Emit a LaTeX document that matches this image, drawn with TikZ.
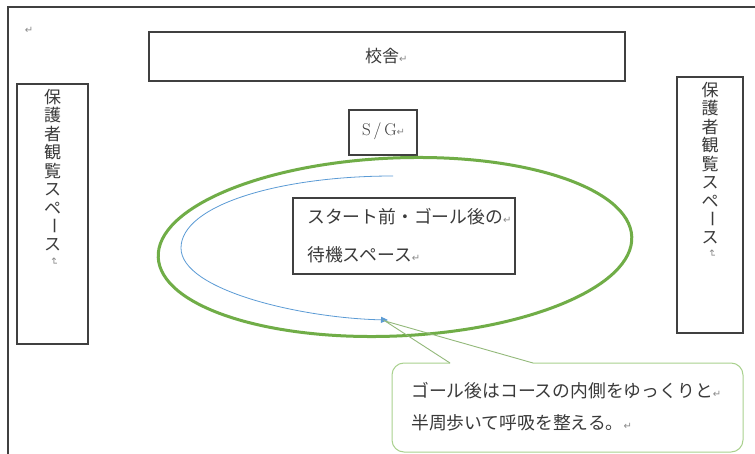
\documentclass[tikz,border=0pt]{standalone}
\usepackage{fontspec}
\newfontfamily\jp{Noto Sans CJK JP}
\newfontfamily\dv{DejaVu Sans}
\usetikzlibrary{arrows.meta}
\definecolor{framec}{HTML}{404040}
\definecolor{coursec}{HTML}{70AD47}
\definecolor{pathc}{HTML}{5B9BD5}
\definecolor{calloutc}{HTML}{A9D18E}
\definecolor{pointerc}{HTML}{93B97A}
\definecolor{inkc}{HTML}{3A3A3A}
\definecolor{retc}{HTML}{8A8A8A}
\newcommand{\retmark}{{\dv\fontsize{10}{10}\selectfont\textcolor{retc}{↵}}}
\begin{document}
\begin{tikzpicture}[x=1pt,y=-1pt,
  boxc/.style={draw=framec, line width=1.2pt, fill=white, inner sep=0pt},
  jtxt/.style={font=\jp\fontsize{17.8}{20}\selectfont, text=inkc, inner sep=0pt},
  vtxt/.style={font=\jp\fontsize{17}{18}\selectfont, text=inkc, inner sep=0pt}]
\useasboundingbox (0,0) rectangle (755,454);
\fill[white] (0,0) rectangle (755,454);
% outer frame
\draw[framec, line width=1.2pt] (8,454) -- (8,7) -- (755,7);
\node[inner sep=0pt] (r0) at (29,30) {\retmark};
% school building
\node[boxc, minimum width=476pt, minimum height=49pt] (school) at (387,56.5) {};
\node[jtxt, font=\jp\fontsize{17}{20}\selectfont, anchor=west] (schooltxt) at (365,56) {校舎\retmark};
% S/G
\node[boxc, minimum width=68pt, minimum height=45pt] (sg) at (383,132.5) {};
\node[inner sep=0pt, text=inkc, font=\fontsize{17}{17}\selectfont, anchor=west] (sgtxt) at (362,131) {S\,/\,G\retmark};
% course
\draw[coursec, line width=3pt, rotate around={2.5:(395,247)}] (395,247) ellipse [x radius=237, y radius=89];
% waiting area
\node[boxc, minimum width=222pt, minimum height=76pt] (wait) at (404,236) {};
\node[jtxt, anchor=west] (wait1) at (307,217) {スタート前・ゴール後の\retmark};
\node[jtxt, anchor=west] (wait2) at (307,255) {待機スペース\retmark};
% walking path
\coordinate (ps) at (393,176);
\coordinate (pm) at (181,248);
\coordinate (pe) at (388,320);
\draw[pathc, line width=0.8pt, -{Triangle[length=7pt,width=6pt]}] (ps) .. controls (280,176) and (181,205) .. (pm) .. controls (181,290) and (300,318) .. (pe);
% spectator areas
\node[boxc, minimum width=71pt, minimum height=260pt] (left) at (52.5,214) {};
\node[boxc, minimum width=66pt, minimum height=256pt] (right) at (710,205) {};
\foreach \c [count=\i] in {保,護,者,観,覧,ス,ペ,ー,ス}{
  \ifnum\i=8
    \node[vtxt, rotate=-90] (l\i) at (52.5,{97+(\i-1)*18.5}) {\c};
    \node[vtxt, rotate=-90] (r\i) at (710,{90+(\i-1)*18.5}) {\c};
  \else
    \node[vtxt] (l\i) at (52.5,{97+(\i-1)*18.5}) {\c};
    \node[vtxt] (r\i) at (710,{90+(\i-1)*18.5}) {\c};
  \fi
}
\node[inner sep=0pt, rotate=-90] (lret) at (54,262) {\retmark};
\node[inner sep=0pt, rotate=-90] (rret) at (712,254) {\retmark};
% callout
\coordinate (tip) at (385,321);
\coordinate (wa) at (450,363);
\coordinate (wb) at (533,363);
\draw[calloutc, line width=1pt] (wb) [rounded corners=12pt] -- (743,363) -- (743,452) -- (392,452) -- (392,363) [sharp corners] -- (wa);
\draw[pointerc, line width=0.9pt, line join=miter] (wa) -- (tip) -- (wb);
\node[jtxt, anchor=west] (c1) at (411,391) {ゴール後はコースの内側をゆっくりと\retmark};
\node[jtxt, anchor=west] (c2) at (411,423) {半周歩いて呼吸を整える。\retmark};
\end{tikzpicture}
\end{document}
